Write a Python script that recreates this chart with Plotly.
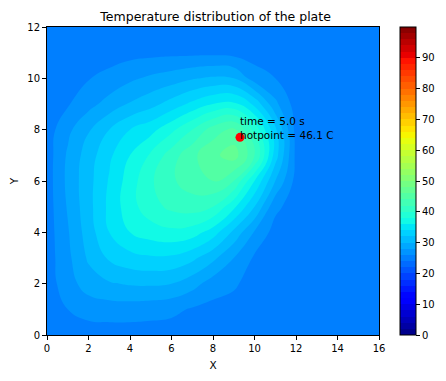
import plotly.graph_objects as go

# grid coordinates
x_vals = list(range(0, 17))
y_vals = list(range(0, 13))

# temperature (°C), rows are y = 0..12, columns x = 0..16
row_y0 = [25, 25, 25, 25, 25, 25, 25, 25, 25, 25, 25, 25, 25, 25, 25, 25, 25]
row_y1 = [25, 26.0, 26.8, 27.0, 27.0, 26.8, 26.5, 25.8, 25.4, 25.2, 25, 25, 25, 25, 25, 25, 25]
row_y2 = [25, 27.1, 29.0, 29.8, 30.2, 30.3, 30.0, 28.8, 27.0, 26.3, 25.1, 25, 25, 25, 25, 25, 25]
row_y3 = [25, 27.5, 30.3, 32.3, 33.3, 33.7, 33.6, 32.5, 30.5, 28.0, 25.7, 25, 25, 25, 25, 25, 25]
row_y4 = [25, 27.8, 31.0, 34.0, 36.0, 37.0, 37.5, 37.0, 35.0, 31.5, 27.8, 25.2, 25, 25, 25, 25, 25]
row_y5 = [25, 28.2, 31.3, 34.5, 37.2, 39.2, 40.5, 41.0, 40.0, 36.5, 32.0, 26.5, 25, 25, 25, 25, 25]
row_y6 = [25, 28.5, 31.3, 34.2, 37.0, 39.7, 41.7, 43.0, 44.0, 42.0, 36.0, 30.0, 25.3, 25, 25, 25, 25]
row_y7 = [25, 28.3, 31.0, 33.6, 36.0, 38.3, 41.0, 43.5, 45.5, 47.0, 42.5, 33.0, 25.5, 25, 25, 25, 25]
row_y8 = [25, 27.5, 29.8, 32.0, 34.0, 35.3, 37.5, 40.0, 43.0, 44.5, 39.5, 32.5, 25.3, 25, 25, 25, 25]
row_y9 = [25, 25.8, 27.3, 28.8, 30.2, 31.3, 32.8, 34.5, 36.0, 36.5, 33.5, 28.5, 25.1, 25, 25, 25, 25]
row_y10 = [25, 25.0, 25.9, 26.6, 27.6, 28.4, 29.0, 29.8, 30.3, 30.0, 27.0, 26.0, 25, 25, 25, 25, 25]
row_y11 = [25, 25.0, 25.0, 25.1, 25.3, 25.4, 25.5, 25.5, 25.5, 25.3, 25.1, 25, 25, 25, 25, 25, 25]
row_y12 = [25, 25, 25, 25, 25, 25, 25, 25, 25, 25, 25, 25, 25, 25, 25, 25, 25]

temperature = [row_y0, row_y1, row_y2, row_y3, row_y4, row_y5, row_y6,
               row_y7, row_y8, row_y9, row_y10, row_y11, row_y12]

# hot point
hot_x = [9.3]
hot_y = [7.7]
sim_time = 5.0
hot_temp = 46.1

x_ticks = [0, 2, 4, 6, 8, 10, 12, 14, 16]
y_ticks = [0, 2, 4, 6, 8, 10, 12]
cbar_ticks = [0, 10, 20, 30, 40, 50, 60, 70, 80, 90]

# matplotlib "jet"
jet = [
    [0.0, "rgb(0,0,128)"],
    [0.11, "rgb(0,0,255)"],
    [0.125, "rgb(0,0,255)"],
    [0.34, "rgb(0,219,255)"],
    [0.35, "rgb(0,230,247)"],
    [0.375, "rgb(21,255,226)"],
    [0.64, "rgb(238,255,8)"],
    [0.65, "rgb(247,246,0)"],
    [0.66, "rgb(255,236,0)"],
    [0.89, "rgb(255,19,0)"],
    [0.91, "rgb(232,0,0)"],
    [1.0, "rgb(128,0,0)"],
]

fig = go.Figure()
fig.add_trace(go.Contour(
    x=x_vals, y=y_vals, z=temperature,
    colorscale=jet, zmin=0, zmax=100, zauto=False,
    autocontour=False,
    contours=dict(start=0, end=100, size=2, coloring="fill", showlines=False),
    line=dict(width=0, smoothing=1.3),
    colorbar=dict(
        x=1.063, xanchor="left", xpad=0, y=0.5, yanchor="middle", ypad=0,
        len=1.0, lenmode="fraction", thickness=16,
        outlinewidth=1, outlinecolor="black",
        tickvals=cbar_ticks, ticks="outside", ticklen=4, tickcolor="black",
        tickfont=dict(family="DejaVu Sans", size=10, color="black"),
    ),
    hoverinfo="skip",
))

fig.add_trace(go.Scatter(
    x=hot_x, y=hot_y, mode="markers",
    marker=dict(color="red", size=9),
    showlegend=False, hoverinfo="skip",
))

fig.add_annotation(
    x=hot_x[0], y=hot_y[0], xref="x", yref="y",
    text=f"time = {sim_time} s<br>hotpoint = {hot_temp} C",
    showarrow=False, xanchor="left", yanchor="bottom", align="left",
    xshift=-2, yshift=-6,
    font=dict(family="DejaVu Sans", size=10.5, color="black"),
)

axis_common = dict(
    showgrid=False, zeroline=False, showline=True, mirror=True,
    linecolor="black", linewidth=1, ticks="outside", ticklen=4,
    tickcolor="black", tickfont=dict(family="DejaVu Sans", size=10, color="black"),
)

fig.update_xaxes(range=[0, 16], tickvals=x_ticks, title=dict(text="X", standoff=8,
                 font=dict(family="DejaVu Sans", size=10.5, color="black")), **axis_common)
fig.update_yaxes(range=[0, 12], tickvals=y_ticks, title=dict(text="Y", standoff=8,
                 font=dict(family="DejaVu Sans", size=10.5, color="black")), **axis_common)

# the page body adds an 8 px offset, so the figure is 8 px smaller in each direction
fig.update_layout(
    width=438, height=373,
    margin=dict(l=39, r=67, t=19, b=46, autoexpand=False),
    paper_bgcolor="white", plot_bgcolor="white",
    title=dict(text="Temperature distribution of the plate", x=0.474, xanchor="center",
               yref="container", y=0.988, yanchor="top", pad=dict(t=0, b=0),
               font=dict(family="DejaVu Sans", size=12.5, color="black")),
    showlegend=False,
)

fig.write_html("out.html")
